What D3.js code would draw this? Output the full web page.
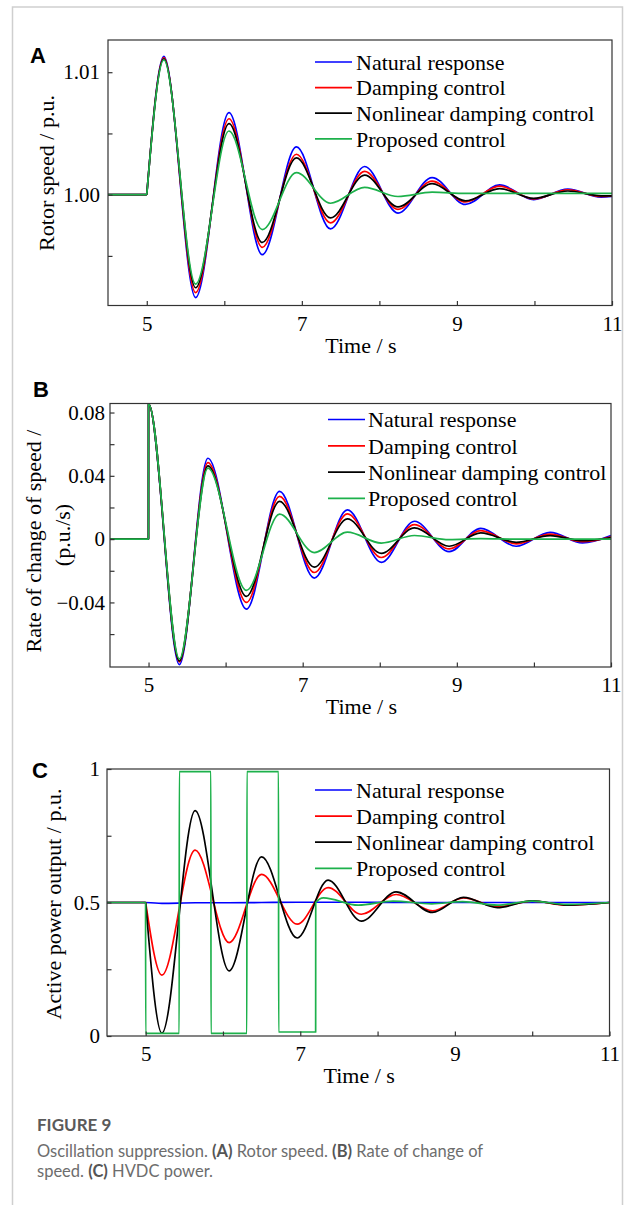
<!DOCTYPE html>
<html>
<head>
<meta charset="utf-8">
<script src="https://cdn.jsdelivr.net/npm/d3@7/dist/d3.min.js"></script>
<style>
  body { margin: 0; background: #fff; }
  svg { display: block; }
</style>
</head>
<body>
<div id="chart"></div>
<script>
const seriesNames = ['Natural response', 'Damping control', 'Nonlinear damping control', 'Proposed control'];
const seriesColors = ['#0000ff', '#ff0000', '#000000', '#1db14b'];

const faultTime = 5;
const timeDomain = [4.5, 11];
const timeTicks = [5, 6, 7, 8, 9, 10, 11];
const timeLabels = ['5', '', '7', '', '9', '', '11'];

// (A) rotor speed, p.u. -- values at the extrema
const speedTime = [4.5, 5, 5.22, 5.63, 6.06, 6.49, 6.93, 7.37, 7.81, 8.24, 8.68, 9.11, 9.55, 9.99, 10.43, 10.86, 11];
const speedNatural = [1.0, 1.0, 1.0113, 0.9916, 1.0067, 0.9951, 1.0039, 0.9972, 1.0023, 0.9985, 1.0014, 0.9992, 1.0008, 0.9996, 1.00046, 0.9998, 0.99985];
const speedDamping = [1.0, 1.0, 1.0112, 0.9920, 1.0062, 0.9957, 1.0033, 0.9977, 1.0019, 0.9988, 1.0011, 0.9994, 1.0007, 0.99965, 1.0004, 0.99985, 0.9999];
const speedNonlinear = [1.0, 1.0, 1.0111, 0.9924, 1.0058, 0.9961, 1.0030, 0.9981, 1.0016, 0.9990, 1.0009, 0.9995, 1.0005, 0.9997, 1.0003, 0.9999, 0.9999];
const speedProposed = [1.0, 1.0, 1.0110, 0.9927, 1.0052, 0.99715, 1.0018, 0.9993, 1.0006, 0.99985, 1.0002, 1.0001, 1.0001, 1.0001, 1.0001, 1.0001, 1.0001];
const speedDomain = [0.99095, 1.01263];
const speedTicks = [0.995, 1.0, 1.005, 1.01];
const speedLabels = ['', '1.00', '', '1.01'];

// (B) rate of change of speed, p.u./s
const rateTime = [4.5, 5, 5, 5.40, 5.77, 6.27, 6.70, 7.15, 7.58, 8.02, 8.45, 8.90, 9.31, 9.77, 10.21, 10.63, 11];
const rateNatural = [0, 0, 0.0855, -0.0793, 0.0511, -0.0442, 0.0302, -0.0246, 0.0185, -0.0147, 0.0113, -0.0079, 0.0068, -0.0045, 0.0043, -0.0024, 0.0022];
const rateDamping = [0, 0, 0.0855, -0.0775, 0.0484, -0.0400, 0.0270, -0.0211, 0.0160, -0.0116, 0.0092, -0.0062, 0.0054, -0.0030, 0.0032, -0.0016, 0.0015];
const rateNonlinear = [0, 0, 0.0855, -0.0770, 0.0463, -0.0362, 0.0239, -0.0177, 0.0128, -0.0090, 0.0071, -0.0045, 0.0039, -0.0020, 0.0022, -0.0010, 0.0010];
const rateProposed = [0, 0, 0.0855, -0.0757, 0.0449, -0.0324, 0.0158, -0.0085, 0.0044, -0.0025, 0.0023, -0.0003, 0.0003, 0, 0, 0, 0];
const rateDomain = [-0.0808, 0.0857];
const rateTicks = [-0.06, -0.04, -0.02, 0, 0.02, 0.04, 0.06, 0.08];
const rateLabels = ['', '\u22120.04', '', '0', '', '0.04', '', '0.08'];

// (C) HVDC active power output, p.u.
const powerTime = [4.5, 5, 5.21, 5.64, 6.08, 6.50, 6.96, 7.36, 7.79, 8.24, 8.71, 9.11, 9.55, 10.0, 10.45, 11];
const powerNatural = [0.5, 0.5, 0.497, 0.499, 0.499, 0.5, 0.501, 0.501, 0.501, 0.5, 0.5, 0.5, 0.5, 0.5, 0.5, 0.5];
const powerDamping = [0.5, 0.5, 0.228, 0.696, 0.350, 0.605, 0.419, 0.556, 0.456, 0.530, 0.469, 0.517, 0.484, 0.505, 0.490, 0.5];
const powerNonlinear = [0.5, 0.5, 0.011, 0.844, 0.244, 0.671, 0.367, 0.584, 0.430, 0.540, 0.463, 0.519, 0.481, 0.506, 0.490, 0.5];
const proposedPowerTime = [4.5, 5, 5, 5.435, 5.435, 5.845, 5.845, 6.31, 6.31, 6.72, 6.72, 7.2, 7.2, 7.3, 7.75, 8.2, 8.7, 9.1, 9.55, 10.0, 10.45, 11];
const powerProposed = [0.5, 0.5, 0.01, 0.01, 0.99, 0.99, 0.01, 0.01, 0.99, 0.99, 0.015, 0.015, 0.5, 0.517, 0.49, 0.505, 0.495, 0.503, 0.49, 0.505, 0.493, 0.5];
const powerDomain = [0, 1];
const powerTicks = [0, 0.25, 0.5, 0.75, 1];
const powerLabels = ['0', '', '0.5', '', '1'];

const serif = "'Liberation Serif', 'Times New Roman', serif";
const sans = "Lato, 'Open Sans', sans-serif";

const width = 625;
const height = 1205;

const svg = d3.select('#chart').
  append('svg').
  attr('width', width).
  attr('height', height);

// outer frame of the figure
svg.append('path').
  attr('d', 'M12.5,1210 V7 H622.5 V1210').
  attr('fill', 'none').
  attr('stroke', '#cfcfcf').
  attr('stroke-width', 1.5);

const panels = [
  {
    letter: 'A', letterX: 30, letterY: 63,
    left: 108, right: 612, top: 40, bottom: 305.5,
    yDomain: speedDomain, yTicks: speedTicks, yLabels: speedLabels, yPad: 8,
    yTitle: ['Rotor speed / p.u.'], yTitleX: [46.5], yTitleY: [173],
    legend: { x0: 315, x1: 352, tx: 356, y0: 62, dy: 25.6 },
    series: [
      { time: speedTime, values: speedNatural },
      { time: speedTime, values: speedDamping },
      { time: speedTime, values: speedNonlinear },
      { time: speedTime, values: speedProposed }]
  },
  {
    letter: 'B', letterX: 33, letterY: 397,
    left: 110, right: 611, top: 403.5, bottom: 667,
    yDomain: rateDomain, yTicks: rateTicks, yLabels: rateLabels, yPad: 5,
    yTitle: ['Rate of change of speed /', '(p.u./s)'], yTitleX: [33, 62], yTitleY: [541, 535],
    legend: { x0: 328, x1: 365, tx: 368, y0: 419.5, dy: 26.3 },
    series: [
      { time: rateTime, values: rateNatural },
      { time: rateTime, values: rateDamping },
      { time: rateTime, values: rateNonlinear },
      { time: rateTime, values: rateProposed }]
  },
  {
    letter: 'C', letterX: 32, letterY: 778,
    left: 107, right: 609.5, top: 769, bottom: 1036,
    yDomain: powerDomain, yTicks: powerTicks, yLabels: powerLabels, yPad: 7,
    yTitle: ['Active power output / p.u.'], yTitleX: [53], yTitleY: [904],
    legend: { x0: 315, x1: 352, tx: 356, y0: 790, dy: 26.1 },
    series: [
      { time: powerTime, values: powerNatural },
      { time: powerTime, values: powerDamping },
      { time: powerTime, values: powerNonlinear },
      { time: proposedPowerTime, values: powerProposed }]
  }];

panels.forEach(p => drawPanel(p));

function drawPanel(p) {
  const x = d3.scaleLinear().domain(timeDomain).range([p.left, p.right]);
  const y = d3.scaleLinear().domain(p.yDomain).range([p.bottom, p.top]);
  const g = svg.append('g');

  svg.append('clipPath').
    attr('id', 'clip' + p.letter).
    append('rect').
    attr('x', p.left).
    attr('y', p.top - 1).
    attr('width', p.right - p.left).
    attr('height', p.bottom - p.top + 2);

  const line = d3.line().
    x(d => x(d[0])).
    y(d => y(d[1])).
    curve(d3.curveMonotoneX);

  // vertical jumps: pull the first of two equal times back a hair so the curve stays valid
  function nudge(pts) {
    return pts.map((d, j) => j < pts.length - 1 && pts[j + 1][0] === d[0] ? [d[0] - 0.001, d[1]] : d);
  }

  p.series.forEach((s, i) => {
    const pts = s.time.map((t, j) => [t, s.values[j]]);
    const k = s.time.indexOf(faultTime);
    const pre = pts.slice(0, k + 1);
    const post = pts.slice(k);
    g.append('path').
      attr('clip-path', 'url(#clip' + p.letter + ')').
      attr('d', line(nudge(pre)) + line(nudge(post))).
      attr('fill', 'none').
      attr('stroke', seriesColors[i]).
      attr('stroke-width', 1.7).
      attr('stroke-linejoin', 'round');
  });

  // box
  g.append('rect').
    attr('x', p.left).
    attr('y', p.top).
    attr('width', p.right - p.left).
    attr('height', p.bottom - p.top).
    attr('fill', 'none').
    attr('stroke', '#333').
    attr('stroke-width', 1.2);

  const xAxis = g.append('g').
    attr('transform', 'translate(0,' + p.bottom + ')').
    call(d3.axisBottom(x).
      tickValues(timeTicks).
      tickFormat((d, i) => timeLabels[i]).
      tickSizeInner(-4.5).
      tickSizeOuter(0).
      tickPadding(10.5));

  const yAxis = g.append('g').
    attr('transform', 'translate(' + p.left + ',0)').
    call(d3.axisLeft(y).
      tickValues(p.yTicks).
      tickFormat((d, i) => p.yLabels[i]).
      tickSizeInner(-4.5).
      tickSizeOuter(0).
      tickPadding(p.yPad));

  [xAxis, yAxis].forEach(a => {
    a.select('.domain').remove();
    a.selectAll('line').attr('stroke', '#333').attr('stroke-width', 1.2);
    a.selectAll('text').
      attr('fill', '#000').
      style('font-family', serif).
      style('font-size', '21px');
  });

  // axis titles
  g.append('text').
    attr('x', (p.left + p.right) / 2 + 1).
    attr('y', p.bottom + 47).
    attr('text-anchor', 'middle').
    style('font-family', serif).
    style('font-size', '22px').
    text('Time / s');

  p.yTitle.forEach((t, i) => {
    g.append('text').
      attr('transform', 'translate(' + p.yTitleX[i] + ',' + p.yTitleY[i] + ') rotate(-90)').
      attr('text-anchor', 'middle').
      attr('dy', '0.35em').
      style('font-family', serif).
      style('font-size', '22px').
      text(t);
  });

  // panel letter
  g.append('text').
    attr('x', p.letterX).
    attr('y', p.letterY).
    style('font-family', "'Liberation Sans', Arial, sans-serif").
    style('font-weight', 'bold').
    style('font-size', '22px').
    text(p.letter);

  // legend
  const leg = g.append('g');
  seriesNames.forEach((name, i) => {
    const ly = p.legend.y0 + i * p.legend.dy;
    leg.append('line').
      attr('x1', p.legend.x0).
      attr('x2', p.legend.x1).
      attr('y1', ly).
      attr('y2', ly).
      attr('stroke', seriesColors[i]).
      attr('stroke-width', 1.7);
    leg.append('text').
      attr('x', p.legend.tx).
      attr('y', ly).
      attr('dy', '0.35em').
      style('font-family', serif).
      style('font-size', '22px').
      text(name);
  });
}

// caption
const cap = svg.append('g').style('font-family', sans);
cap.append('text').
  attr('x', 37).
  attr('y', 1131).
  attr('fill', '#5a5a5a').
  style('font-size', '17px').
  style('font-weight', 'bold').
  text('FIGURE 9');

const capLines = [
  [['Oscillation suppression. ', false], ['(A)', true], [' Rotor speed. ', false], ['(B)', true], [' Rate of change of', false]],
  [['speed. ', false], ['(C)', true], [' HVDC power.', false]]];

capLines.forEach((parts, i) => {
  const t = cap.append('text').
    attr('x', 37).
    attr('y', 1157 + i * 20).
    attr('fill', '#6d6d6d').
    style('font-size', '16.5px');
  parts.forEach(d => {
    t.append('tspan').
      attr('fill', d[1] ? '#555' : '#6d6d6d').
      style('font-weight', d[1] ? 'bold' : 'normal').
      text(d[0]);
  });
});
</script>
</body>
</html>
